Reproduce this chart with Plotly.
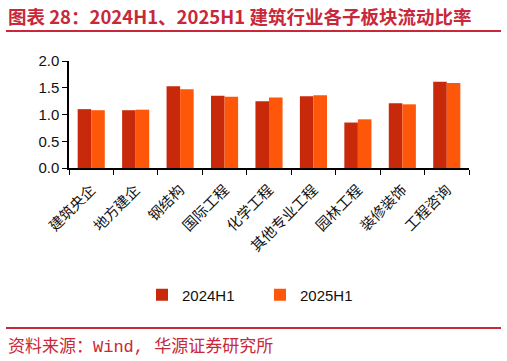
import plotly.graph_objects as go

categories = ["建筑央企", "地方建企", "钢结构", "国际工程", "化学工程", "其他专业工程", "园林工程", "装修装饰", "工程咨询"]
h1_2024 = [1.10, 1.08, 1.53, 1.35, 1.25, 1.34, 0.85, 1.21, 1.61]
h1_2025 = [1.08, 1.09, 1.47, 1.33, 1.32, 1.36, 0.91, 1.19, 1.59]
series_names = ["2024H1", "2025H1"]

W, H = 507, 361
L, R, T, B = 69, 38, 61, 193
pw, ph = W - L - R, H - T - B

def px(x):
    return (x - L) / pw

def py(y):
    return (H - B - y) / ph

cjk = "Noto Sans CJK SC, Liberation Sans, sans-serif"

fig = go.Figure()
fig.add_trace(go.Bar(x=categories, y=h1_2024, name=series_names[0], marker_color="#C8290A",
                     marker_line_width=0))
fig.add_trace(go.Bar(x=categories, y=h1_2025, name=series_names[1], marker_color="#FF570A",
                     marker_line_width=0))

fig.update_layout(
    width=W, height=H,
    margin=dict(l=L, r=R, t=T, b=B),
    paper_bgcolor="white", plot_bgcolor="white",
    barmode="group", bargap=0.39, bargroupgap=0,
    font=dict(family=cjk, color="#111111", size=13),
    showlegend=True,
    legend=dict(orientation="h", x=px(260), xanchor="center", y=py(295), yanchor="middle",
                font=dict(family="Liberation Sans, Arial, sans-serif", size=15, color="#111111"),
                itemwidth=30, traceorder="normal", entrywidth=73),
    xaxis=dict(showline=True, linecolor="black", linewidth=1.5, ticks="outside", tickson="boundaries",
               ticklen=5, tickcolor="black", tickangle=-45, showgrid=False, ticklabelstandoff=6,
               tickfont=dict(family=cjk, size=14.5, color="#111111")),
    yaxis=dict(range=[0, 2.0], dtick=0.5, tickformat=".1f", showline=True, linecolor="black",
               linewidth=1.5, ticks="outside", ticklen=5, tickcolor="black", showgrid=False,
               zeroline=False,
               tickfont=dict(family="Liberation Sans, Arial, sans-serif", size=15, color="#111111")),
)

fig.add_annotation(text="<b>图表 28：2024H1、2025H1 建筑行业各子板块流动比率</b>",
                   xref="paper", yref="paper", x=px(6), y=py(16), xanchor="left", yanchor="middle",
                   showarrow=False, font=dict(family=cjk, size=18.5, color="#C8283A"))
fig.add_shape(type="line", xref="paper", yref="paper", x0=px(6), x1=px(501), y0=py(31), y1=py(31),
              line=dict(color="#C8283A", width=2))
fig.add_shape(type="line", xref="paper", yref="paper", x0=px(6), x1=px(501), y0=py(328), y1=py(328),
              line=dict(color="#C8283A", width=2))
fig.add_annotation(text="资料来源：Wind, 华源证券研究所",
                   xref="paper", yref="paper", x=px(6), y=py(347), xanchor="left", yanchor="middle",
                   showarrow=False, font=dict(family="Liberation Mono, Noto Sans CJK SC, monospace", size=17, color="#C8283A"))

fig.write_html("out.html")
